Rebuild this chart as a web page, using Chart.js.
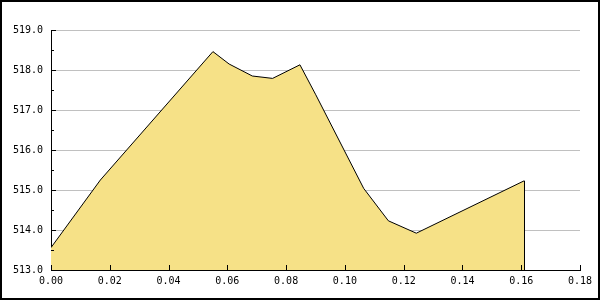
<!DOCTYPE html>
<html>
<head>
<meta charset="utf-8">
<script src="https://cdn.jsdelivr.net/npm/chart.js@4"></script>
<style>
  html, body { margin: 0; padding: 0; background: #fff; }
  #wrap { width: 600px; height: 300px; }
</style>
</head>
<body>
<div id="wrap"><canvas id="areaChart" width="600" height="300"></canvas></div>
<script>
// values
const xValues = [0, 0.0168, 0.0551, 0.0606, 0.0685, 0.0754, 0.0847, 0.0901, 0.1064, 0.1148, 0.1243, 0.1610];
const yValues = [513.56, 515.25, 518.46, 518.15, 517.85, 517.79, 518.13, 517.38, 515.04, 514.23, 513.92, 515.23];
const xTicks = [0, 0.02, 0.04, 0.06, 0.08, 0.10, 0.12, 0.14, 0.16, 0.18];
const yTicks = [513, 514, 515, 516, 517, 518, 519];

const points = xValues.map((x, i) => ({ x: x, y: yValues[i] }));

// border round the picture, inward ticks and the closing edge of the area
const extras = {
  id: 'extras',
  afterDatasetsDraw(chart) {
    const ctx = chart.ctx;
    const x = chart.scales.x;
    const y = chart.scales.y;
    const area = chart.chartArea;
    ctx.save();
    ctx.strokeStyle = '#000';
    ctx.lineWidth = 1;
    ctx.beginPath();
    // y ticks, minor at halves
    for (let v = yTicks[0]; v <= yTicks[yTicks.length - 1]; v += 0.5) {
      const py = Math.round(y.getPixelForValue(v)) + 0.5;
      const len = Number.isInteger(v) ? 5 : 3;
      ctx.moveTo(area.left, py);
      ctx.lineTo(area.left + len, py);
    }
    xTicks.forEach((v) => {
      const px = Math.round(x.getPixelForValue(v)) + 0.5;
      ctx.moveTo(px, area.bottom);
      ctx.lineTo(px, area.bottom - 5);
    });
    // right edge of filled area
    const last = points[points.length - 1];
    const lx = Math.round(x.getPixelForValue(last.x)) + 0.5;
    ctx.moveTo(lx, y.getPixelForValue(last.y));
    ctx.lineTo(lx, area.bottom);
    ctx.stroke();

    ctx.lineWidth = 2;
    ctx.strokeRect(1, 1, chart.width - 2, chart.height - 2);
    ctx.restore();
  }
};

new Chart(document.getElementById('areaChart'), {
  type: 'line',
  data: {
    datasets: [{
      data: points,
      borderColor: '#000',
      borderWidth: 1,
      backgroundColor: '#F6E187',
      fill: 'start',
      pointRadius: 0,
      tension: 0
    }]
  },
  options: {
    responsive: false,
    animation: false,
    events: [],
    layout: { padding: { left: 0, right: 20, top: 30, bottom: 0 } },
    plugins: { legend: { display: false }, tooltip: { enabled: false } },
    scales: {
      x: {
        type: 'linear',
        min: 0,
        max: 0.18,
        afterBuildTicks: (scale) => { scale.ticks = xTicks.map((v) => ({ value: v })); },
        afterFit: (scale) => { scale.height = 30; },
        grid: { display: false, drawTicks: false },
        border: { display: true, color: '#000', width: 1 },
        ticks: {
          padding: 5,
          color: '#000',
          maxRotation: 0,
          autoSkip: false,
          font: { family: 'DejaVu Sans Mono', size: 10 },
          callback: (v) => Number(v).toFixed(2)
        }
      },
      y: {
        min: 513,
        max: 519,
        afterBuildTicks: (scale) => { scale.ticks = yTicks.map((v) => ({ value: v })); },
        afterFit: (scale) => { scale.width = 51; },
        grid: { color: '#C0C0C0', drawTicks: false },
        border: { display: true, color: '#000', width: 1 },
        ticks: {
          padding: 8,
          color: '#000',
          font: { family: 'DejaVu Sans Mono', size: 10 },
          callback: (v) => Number(v).toFixed(1)
        }
      }
    }
  },
  plugins: [extras]
});
</script>
</body>
</html>
